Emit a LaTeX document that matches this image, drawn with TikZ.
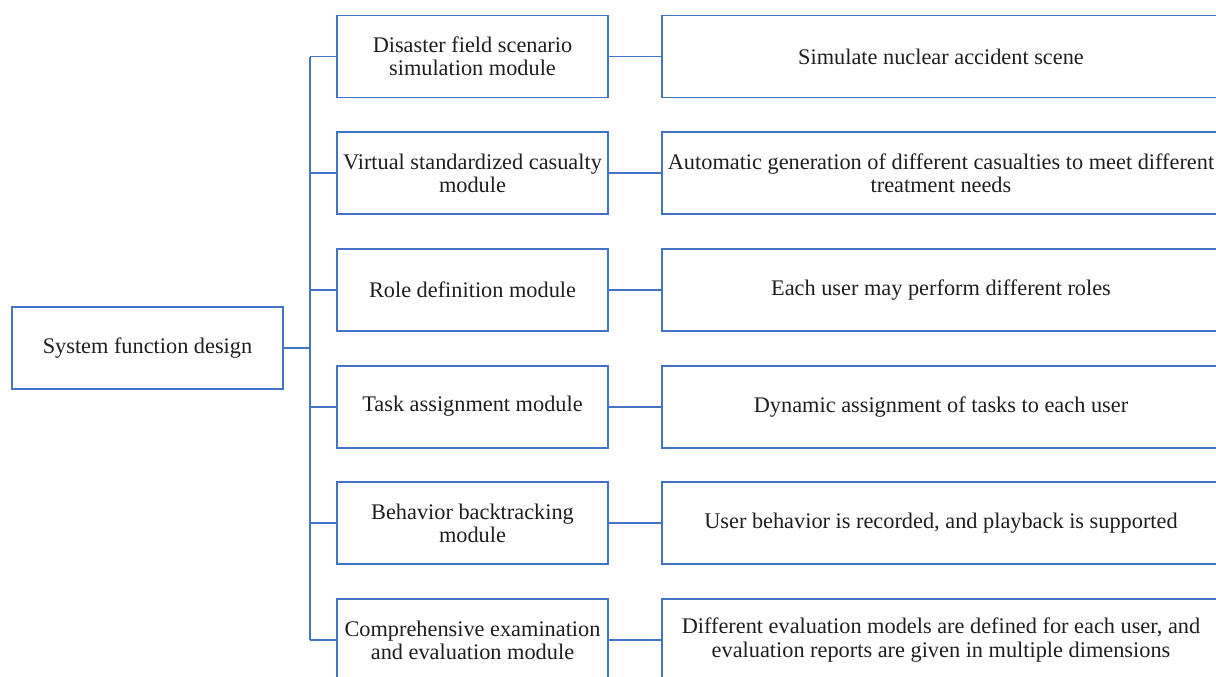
\documentclass[tikz,border=0pt]{standalone}
\usepackage{fontspec}
\setmainfont{Liberation Serif}
\definecolor{lineblue}{HTML}{4472C4}
\definecolor{inkgray}{HTML}{1E1E1E}

\begin{document}
\begin{tikzpicture}[x=0.02cm, y=-0.02cm,
    box/.style={draw=lineblue, line width=1.1pt, inner sep=0pt, align=center,
      text=inkgray, font=\fontsize{12.7}{13.2}\selectfont, minimum height=1.64cm},
    modbox/.style={box, minimum width=5.42cm},
    descbox/.style={box, minimum width=11.16cm},
    link/.style={draw=lineblue, line width=1.1pt}]
  \useasboundingbox (0,0) rectangle (1216,676);
  \clip (0,0) rectangle (1216,676);
  % root
  \node[modbox] (sys) at (147.5, 348) {System function design};
  % modules
  \node[modbox] (m1) at (472.5, 56.5) {Disaster field scenario\\simulation module};
  \node[modbox] (m2) at (472.5, 173.2) {Virtual standardized casualty\\module};
  \node[modbox] (m3) at (472.5, 289.9) {Role definition module};
  \node[modbox] (m4) at (472.5, 406.6) {Task assignment module};
  \node[modbox] (m5) at (472.5, 523.3) {Behavior backtracking\\module};
  \node[modbox] (m6) at (472.5, 640.0) {Comprehensive examination\\and evaluation module};
  % descriptions
  \node[descbox] (r1) at (941, 56.5) {Simulate nuclear accident scene};
  \node[descbox] (r2) at (941, 173.2) {Automatic generation of different casualties to meet different\\treatment needs};
  \node[descbox] (r3) at (941, 289.9) {Each user may perform different roles};
  \node[descbox] (r4) at (941, 406.6) {Dynamic assignment of tasks to each user};
  \node[descbox] (r5) at (941, 523.3) {User behavior is recorded, and playback is supported};
  \node[descbox] (r6) at (941, 640.0) {Different evaluation models are defined for each user, and\\evaluation reports are given in multiple dimensions};
  % trunk
  \coordinate (t1) at (310, 56.5);
  \coordinate (t6) at (310, 640.0);
  \draw[link] (t1) -- (t6);
  \draw[link] (sys.east) -- (sys.east -| t1);
  \draw[link] (m1.west) -- (m1.west -| t1);
  \draw[link] (m2.west) -- (m2.west -| t1);
  \draw[link] (m3.west) -- (m3.west -| t1);
  \draw[link] (m4.west) -- (m4.west -| t1);
  \draw[link] (m5.west) -- (m5.west -| t1);
  \draw[link] (m6.west) -- (m6.west -| t1);
  % module to description
  \draw[link] (m1) -- (r1);
  \draw[link] (m2) -- (r2);
  \draw[link] (m3) -- (r3);
  \draw[link] (m4) -- (r4);
  \draw[link] (m5) -- (r5);
  \draw[link] (m6) -- (r6);
\end{tikzpicture}
\end{document}
